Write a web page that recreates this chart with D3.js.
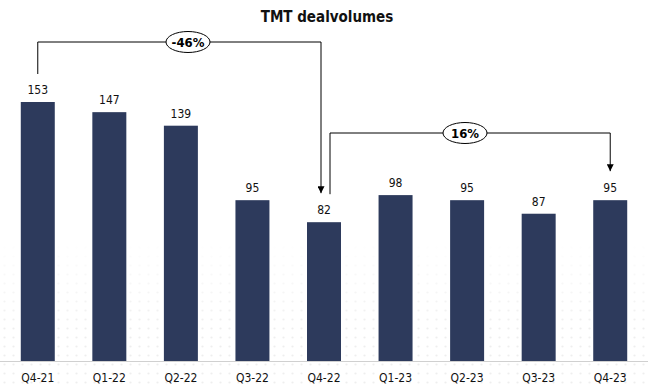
<!DOCTYPE html>
<html>
<head>
<meta charset="utf-8">
<script src="https://cdn.jsdelivr.net/npm/d3@7"></script>
<style>
  html, body { margin: 0; padding: 0; background: #fff; }
  svg { display: block; font-family: "DejaVu Sans Condensed", "DejaVu Sans", sans-serif; }
</style>
</head>
<body>
<div id="chart"></div>
<script>
'use strict';

// chart data
var quarters = ['Q4-21', 'Q1-22', 'Q2-22', 'Q3-22', 'Q4-22', 'Q1-23', 'Q2-23', 'Q3-23', 'Q4-23'];
var dealVolumes = [153, 147, 139, 95, 82, 98, 95, 87, 95];

// change callouts: from quarter, to quarter, label
var changeFrom = ['Q4-21', 'Q4-22'];
var changeTo = ['Q4-22', 'Q4-23'];
var changeLabels = ['-46%', '16%'];

var width = 648, height = 390;
var barColor = '#2d3a5c';

var svg = d3.select('#chart').append('svg')
  .attr('width', width)
  .attr('height', height);

// faint dotted background near the bottom
var defs = svg.append('defs');
defs.append('pattern')
  .attr('id', 'dots')
  .attr('width', 9).attr('height', 9)
  .attr('patternUnits', 'userSpaceOnUse')
  .append('circle')
  .attr('cx', 4.5).attr('cy', 4.5).attr('r', 1.1)
  .attr('fill', '#e2e2e2');
var grad = defs.append('linearGradient')
  .attr('id', 'fade').attr('x1', 0).attr('y1', 0).attr('x2', 0).attr('y2', 1);
grad.append('stop').attr('offset', '0%').attr('stop-color', '#fff');
grad.append('stop').attr('offset', '100%').attr('stop-color', '#fff').attr('stop-opacity', 0);
svg.append('rect')
  .attr('x', 0).attr('y', 240).attr('width', width).attr('height', height - 240)
  .attr('fill', 'url(#dots)').attr('opacity', 0.6);
svg.append('rect')
  .attr('x', 0).attr('y', 240).attr('width', width).attr('height', 90)
  .attr('fill', 'url(#fade)');

var x = d3.scaleBand()
  .domain(quarters)
  .range([2, 646])
  .paddingInner(0.525)
  .paddingOuter(0.2625);

var y = d3.scaleLinear()
  .domain([0, 153])
  .range([361, 102]);

// title
svg.append('text')
  .attr('x', 327).attr('y', 22)
  .attr('text-anchor', 'middle')
  .attr('font-size', 15)
  .attr('font-weight', 'bold')
  .attr('fill', '#111')
  .text('TMT dealvolumes');

// bars
svg.selectAll('rect.bar')
  .data(dealVolumes)
  .enter().append('rect')
  .attr('class', 'bar')
  .attr('x', function(d, i) { return x(quarters[i]); })
  .attr('y', function(d) { return y(d); })
  .attr('width', x.bandwidth())
  .attr('height', function(d) { return y(0) - y(d); })
  .attr('fill', barColor);

// value labels
svg.selectAll('text.val')
  .data(dealVolumes)
  .enter().append('text')
  .attr('class', 'val')
  .attr('x', function(d, i) { return x(quarters[i]) + x.bandwidth() / 2; })
  .attr('y', function(d) { return y(d) - 8; })
  .attr('text-anchor', 'middle')
  .attr('font-size', 12)
  .attr('fill', '#111')
  .text(function(d) { return d; });

// x axis
var xAxis = svg.append('g')
  .attr('transform', 'translate(0,' + y(0) + ')')
  .call(d3.axisBottom(x).tickSize(0).tickPadding(12));
xAxis.select('.domain')
  .attr('d', 'M0,0.5H' + width)
  .attr('stroke', '#d0d0d0');
xAxis.selectAll('text')
  .attr('font-size', 12)
  .attr('font-family', '"DejaVu Sans Condensed", "DejaVu Sans", sans-serif')
  .attr('fill', '#111');

// arrow head
defs.append('marker')
  .attr('id', 'arrow')
  .attr('viewBox', '0 0 10 10')
  .attr('refX', 10).attr('refY', 5)
  .attr('markerWidth', 7).attr('markerHeight', 7)
  .attr('markerUnits', 'userSpaceOnUse')
  .attr('orient', 'auto')
  .append('path')
  .attr('d', 'M0,0L10,5L0,10Z')
  .attr('fill', '#000');

// change brackets
var bracketY = [42, 133];
var startOffset = [0, 6];
var endOffset = [-3, 0];
changeLabels.forEach(function(lbl, i) {
  var i0 = quarters.indexOf(changeFrom[i]);
  var i1 = quarters.indexOf(changeTo[i]);
  var x0 = x(changeFrom[i]) + x.bandwidth() / 2 + startOffset[i];
  var x1 = x(changeTo[i]) + x.bandwidth() / 2 + endOffset[i];
  var yStart = y(dealVolumes[i0]) - 28;
  var yEnd = y(dealVolumes[i1]) - 29;
  var top = bracketY[i];

  svg.append('path')
    .attr('d', 'M' + x0 + ',' + yStart + 'V' + top + 'H' + x1 + 'V' + yEnd)
    .attr('fill', 'none')
    .attr('stroke', '#000')
    .attr('stroke-width', 1)
    .attr('marker-end', 'url(#arrow)');

  var cx = i === 0 ? 188 : 465;
  svg.append('ellipse')
    .attr('cx', cx).attr('cy', top)
    .attr('rx', 22).attr('ry', 10.5)
    .attr('fill', '#fff')
    .attr('stroke', '#000')
    .attr('stroke-width', 1);
  svg.append('text')
    .attr('x', cx).attr('y', top + 5)
    .attr('text-anchor', 'middle')
    .attr('font-size', 13)
    .attr('font-weight', 'bold')
    .attr('fill', '#000')
    .text(lbl);
});
</script>
</body>
</html>
